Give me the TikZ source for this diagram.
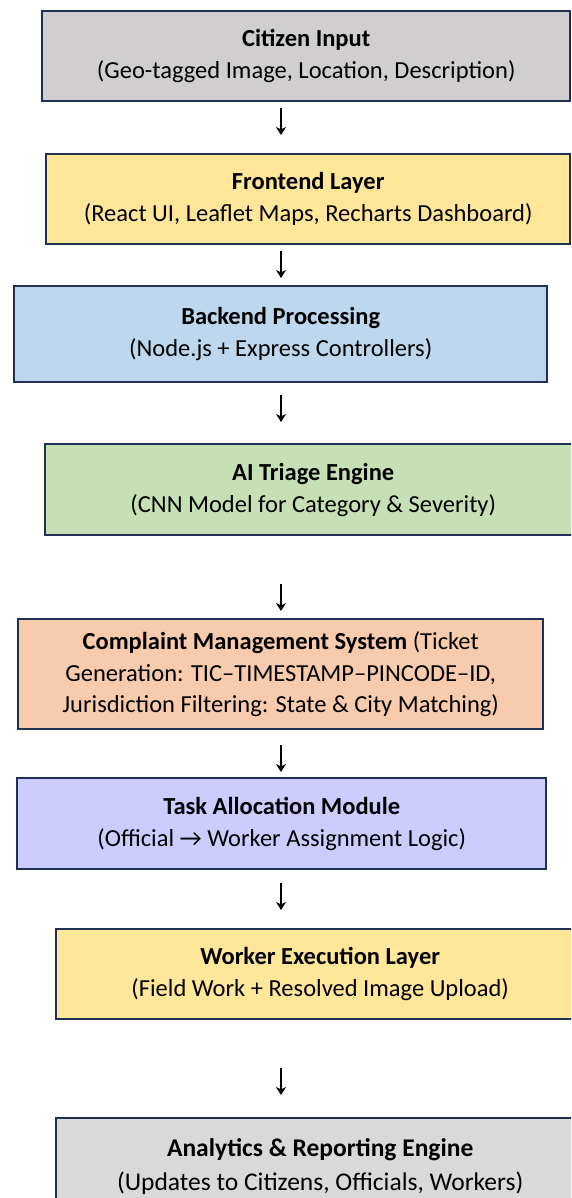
\documentclass[tikz,border=0pt]{standalone}
\usepackage{fontspec}
\setmainfont{Carlito}
\usetikzlibrary{arrows.meta}
\definecolor{edge}{HTML}{1F3052}
\definecolor{cgray}{HTML}{D0CECE}
\definecolor{cgold}{HTML}{FFE699}
\definecolor{cblue}{HTML}{BDD7EE}
\definecolor{cgreen}{HTML}{C5E0B4}
\definecolor{corange}{HTML}{F8CBAD}
\definecolor{clav}{HTML}{CCCCFF}
\definecolor{clgray}{HTML}{D9D9D9}
\begin{document}
\begin{tikzpicture}[x=1pt,y=1pt,
  box/.style={draw=edge, line width=2.4pt, anchor=north west, inner sep=0pt, align=center,
    font=\fontsize{24.5}{31.8}\selectfont},
  arr/.style={line width=1.2pt, -{Stealth[length=8pt,width=10pt,inset=2.5pt]}}]
\useasboundingbox (0,0) rectangle (571,-1198);
\clip (0,0) rectangle (571,-1198);
\fill[white] (0,0) rectangle (571,-1198);
\node[box, fill=cgray, minimum width=528, minimum height=90] (n1) at (41,-10)
  {\textbf{Citizen Input}\\(Geo-tagged Image, Location, Description)};
\node[box, fill=cgold, minimum width=524, minimum height=90] (n2) at (45,-153)
  {\textbf{Frontend Layer}\\(React UI, Leaflet Maps, Recharts Dashboard)};
\node[box, fill=cblue, minimum width=533, minimum height=96] (n3) at (13,-285)
  {\textbf{Backend Processing}\\(Node.js + Express Controllers)};
\node[box, fill=cgreen, minimum width=536, minimum height=91] (n4) at (44,-443)
  {\textbf{AI Triage Engine}\\(CNN Model for Category \& Severity)};
\node[box, fill=corange, minimum width=525, minimum height=110] (n5) at (17,-618)
  {\textbf{Complaint Management System} (Ticket\\Generation: TIC–TIMESTAMP–PINCODE–ID,\\Jurisdiction Filtering: State \& City Matching)};
\node[box, fill=clav, minimum width=529, minimum height=91] (n6) at (16,-777)
  {\textbf{Task Allocation Module}\\(Official → Worker Assignment Logic)};
\node[box, fill=cgold, minimum width=528, minimum height=90] (n7) at (55,-928)
  {\textbf{Worker Execution Layer}\\(Field Work + Resolved Image Upload)};
\node[box, fill=clgray, minimum width=528, minimum height=96,
  font=\fontsize{25.5}{34}\selectfont] (n8) at (55,-1117)
  {\textbf{Analytics \& Reporting Engine}\\(Updates to Citizens, Officials, Workers)};
\coordinate (a1s) at (281,-108);  \coordinate (a1e) at (281,-135);
\coordinate (a2s) at (281,-251);  \coordinate (a2e) at (281,-278);
\coordinate (a3s) at (281,-395);  \coordinate (a3e) at (281,-422);
\coordinate (a4s) at (281,-584);  \coordinate (a4e) at (281,-611);
\coordinate (a5s) at (281,-745);  \coordinate (a5e) at (281,-772);
\coordinate (a6s) at (281,-883);  \coordinate (a6e) at (281,-910);
\coordinate (a7s) at (281,-1068); \coordinate (a7e) at (281,-1095);
\foreach \i in {1,...,7} \draw[arr] (a\i s) -- (a\i e);
\end{tikzpicture}
\end{document}
